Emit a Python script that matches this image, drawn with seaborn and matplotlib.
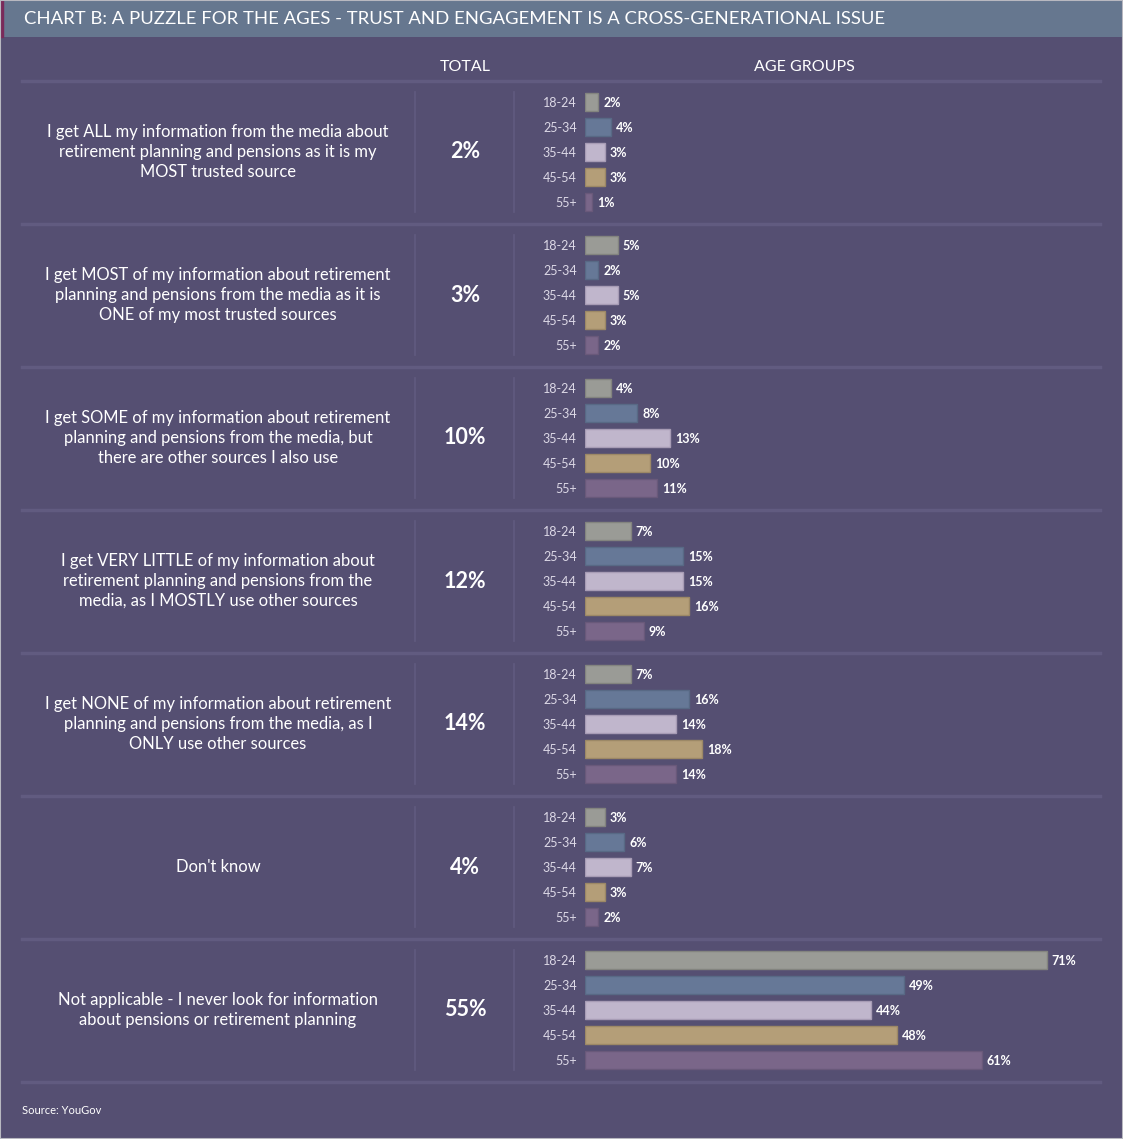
import numpy as np
import pandas as pd
import matplotlib
matplotlib.use("Agg")
import matplotlib.pyplot as plt
import seaborn as sns

# data
statements = [
    "I get ALL my information from the media about\nretirement planning and pensions as it is my\nMOST trusted source",
    "I get MOST of my information about retirement\nplanning and pensions from the media as it is\nONE of my most trusted sources",
    "I get SOME of my information about retirement\nplanning and pensions from the media, but\nthere are other sources I also use",
    "I get VERY LITTLE of my information about\nretirement planning and pensions from the\nmedia, as I MOSTLY use other sources",
    "I get NONE of my information about retirement\nplanning and pensions from the media, as I\nONLY use other sources",
    "Don't know",
    "Not applicable - I never look for information\nabout pensions or retirement planning",
]
totals = [2, 3, 10, 12, 14, 4, 55]
age_groups = ["18-24", "25-34", "35-44", "45-54", "55+"]
age_18_24 = [2, 5, 4, 7, 7, 3, 71]
age_25_34 = [4, 2, 8, 15, 16, 6, 49]
age_35_44 = [3, 5, 13, 15, 14, 7, 44]
age_45_54 = [3, 3, 10, 16, 18, 3, 48]
age_55_plus = [1, 2, 11, 9, 14, 2, 61]

bar_colors = ["#9a9b96", "#667897", "#c0b6cc", "#b49e78", "#7a6689"]
edge_colors = ["#83847f", "#586985", "#a79cb5", "#9c8866", "#69597a"]
BG = "#554f72"
HEADER = "#66778f"
LINE = "#615b80"

W, H = 1123, 1139
fig = plt.figure(figsize=(W / 100, H / 100), dpi=100, facecolor=BG)
plt.rcParams["font.family"] = ["Lato", "DejaVu Sans"]


def fx(x):
    return x / W


def fy(y):
    return 1 - y / H


# header band
hdr = fig.add_axes([0, fy(37), 1, 37 / H])
hdr.set_facecolor(HEADER)
hdr.set_xticks([]); hdr.set_yticks([])
for s in hdr.spines.values():
    s.set_visible(False)
fig.patches.append(plt.Rectangle((0, fy(37)), fx(3), 37 / H, transform=fig.transFigure,
                                 color="#7a2a5a", zorder=5))
fig.patches.append(plt.Rectangle((0, 0), 1, 1, transform=fig.transFigure, fill=False,
                                 edgecolor="#b8b8c0", lw=1.5, zorder=6))
fig.text(fx(24), fy(19), "CHART B: A PUZZLE FOR THE AGES - TRUST AND ENGAGEMENT IS A CROSS-GENERATIONAL ISSUE",
         color="white", fontsize=13.3, va="center", ha="left")

fig.text(fx(465), fy(67), "TOTAL", color="white", fontsize=11.5, ha="center", va="center")
fig.text(fx(804), fy(67), "AGE GROUPS", color="white", fontsize=11.5, ha="center", va="center")

df = pd.DataFrame({"18-24": age_18_24, "25-34": age_25_34, "35-44": age_35_44,
                   "45-54": age_45_54, "55+": age_55_plus})

x0, x1 = 585, 1100
px_per_pct = 6.5
step = 143
row_h = 25

for i in range(len(statements)):
    top_line = 81 + i * step
    fig.add_artist(plt.Line2D([fx(22), fx(1100)], [fy(top_line), fy(top_line)],
                              color=LINE, lw=2.5))
    c0 = 102 + i * step
    mid = c0 + 2 * row_h
    # vertical dividers
    for vx in (415, 514):
        fig.add_artist(plt.Line2D([fx(vx), fx(vx)], [fy(c0 - 10), fy(c0 + 4 * row_h + 10)],
                                  color=LINE, lw=1.2))
    fig.text(fx(218), fy(mid), statements[i], color="white", fontsize=11.9,
             ha="center", va="center", linespacing=1.3)
    fig.text(fx(465), fy(mid), f"{totals[i]}%", color="white", fontsize=15.5,
             fontweight="bold", ha="center", va="center")

    ax_top = c0 - row_h / 2
    ax = fig.add_axes([fx(x0), fy(ax_top + 5 * row_h), fx(x1) - fx(x0), 5 * row_h / H])
    sub = pd.DataFrame({"age": age_groups, "val": df.iloc[i].values})
    sns.barplot(data=sub, x="val", y="age", hue="age", palette=bar_colors, legend=False,
                width=0.72, orient="h", ax=ax, saturation=1)
    for p, ec in zip(ax.patches, edge_colors):
        p.set_edgecolor(ec)
        p.set_linewidth(1)
    ax.set_xlim(0, (x1 - x0) / px_per_pct)
    ax.set_ylim(4.5, -0.5)
    ax.set_facecolor("none")
    ax.set_xlabel(""); ax.set_ylabel("")
    ax.set_xticks([])
    for s in ax.spines.values():
        s.set_visible(False)
    ax.tick_params(axis="y", length=0, pad=6, labelsize=9, labelcolor="#dcd8e6")
    for j, v in enumerate(sub["val"]):
        ax.text(v + 0.8, j + 0.04, f"{v}%", color="white", fontsize=9, fontweight="bold",
                va="center", ha="left")

last = 81 + 7 * step
fig.add_artist(plt.Line2D([fx(22), fx(1100)], [fy(last), fy(last)], color=LINE, lw=2.5))
fig.text(fx(22), fy(1111), "Source: YouGov", color="white", fontsize=8, ha="left", va="center")

fig.savefig("out.png", dpi=100, facecolor=BG)
